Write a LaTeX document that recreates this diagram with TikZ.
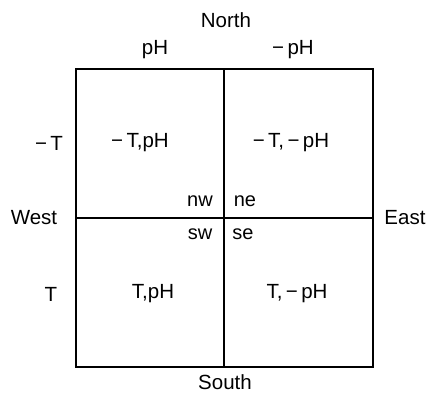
\documentclass[tikz,border=0pt]{standalone}
\usepackage{fontspec}
\setmainfont{Liberation Sans}
\begin{document}
\begin{tikzpicture}[x=1pt,y=1pt,
  lbl/.style={inner sep=0pt,font=\fontsize{20.5}{23}\selectfont},
  sm/.style={inner sep=0pt,font=\fontsize{20}{22}\selectfont},
  frame/.style={line width=1.3pt}]
\useasboundingbox (0,0) rectangle (429,396);
% square: x 76..373, y(img) 69..367 -> tikz y 327..29
\coordinate (tl) at (76,327);
\coordinate (br) at (373,29);
\coordinate (tm) at (224,327);
\coordinate (bm) at (224,29);
\coordinate (lm) at (76,178);
\coordinate (rm) at (373,178);
\draw[frame] (tl) rectangle (br);
\draw[frame] (tm) -- (bm);
\draw[frame] (lm) -- (rm);
% outside labels
\node[lbl] (north) at (226,376) {North};
\node[lbl] (south) at (225,14) {South};
\node[lbl] (west) at (34,178) {West};
\node[lbl] (east) at (405,178) {East};
\node[lbl] (ph) at (155,346) {pH};
\node[lbl] (mph) at (293,346) {−\,pH};
\node[lbl] (mt) at (49,253) {−\,T};
\node[lbl] (t) at (51,102) {T};
% cell labels
\node[lbl] (c1) at (140,253) {−\,T,pH};
\node[lbl] (c2) at (291,253) {−\,T,\,−\,pH};
\node[lbl] (c3) at (153,102) {T,pH};
\node[lbl] (c4) at (297,102) {T,\,−\,pH};
% corner labels
\node[sm] (nw) at (200,195) {nw};
\node[sm] (ne) at (245,195) {ne};
\node[sm] (sw) at (200,162) {sw};
\node[sm] (se) at (243,162) {se};
\end{tikzpicture}
\end{document}
